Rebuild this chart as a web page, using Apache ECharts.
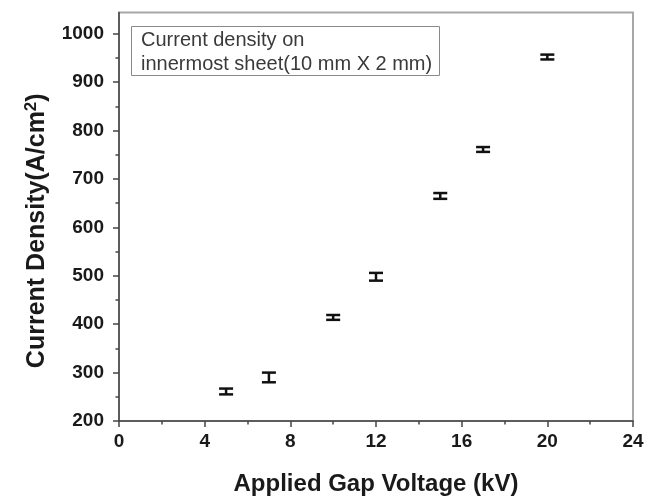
<!DOCTYPE html>
<html>
<head>
<meta charset="utf-8">
<script src="https://cdn.jsdelivr.net/npm/echarts@6/dist/echarts.min.js"></script>
<style>
html,body{margin:0;padding:0;background:#fff;}
#chart{width:657px;height:501px;}
</style>
</head>
<body>
<div id="chart"></div>
<script>
// Data
const voltage = [5, 7, 10, 12, 15, 17, 20];            // kV
const density = [261, 290, 414, 498, 665, 761, 952];   // A/cm^2
const errors  = [6, 10, 5, 8, 6, 5, 5];                // +/- A/cm^2

const xTicks = [0, 4, 8, 12, 16, 20, 24];
const xMinorTicks = [2, 6, 10, 14, 18, 22];
const yTicks = [200, 300, 400, 500, 600, 700, 800, 900, 1000];
const yMinorTicks = [250, 350, 450, 550, 650, 750, 850, 950];

const boxText = 'Current density on\ninnermost sheet(10 mm X 2 mm)';
const xTitle = 'Applied Gap Voltage (kV)';

const font = '"Liberation Sans", Arial, sans-serif';
const errData = voltage.map((v, i) => [v, density[i] - errors[i], density[i] + errors[i]]);

const chart = echarts.init(document.getElementById('chart'), null, {renderer: 'canvas'});
chart.setOption({
  animation: false,
  backgroundColor: '#fff',
  title: {
    text: boxText,
    left: 131, top: 26,
    padding: [2, 8, 0, 10],
    borderColor: '#8a8a8a', borderWidth: 1,
    textStyle: {fontFamily: font, fontSize: 20, fontWeight: 'normal', color: '#3a3a3a', lineHeight: 24}
  },
  grid: {left: 119, right: 24, top: 12.5, bottom: 77, show: true, borderColor: '#a8a8a8', borderWidth: 2, backgroundColor: 'transparent'},
  xAxis: [{
    type: 'value', min: 0, max: 24, interval: 4,
    name: xTitle, nameLocation: 'middle', nameGap: 51,
    nameTextStyle: {fontFamily: font, fontSize: 24, fontWeight: 'bold', color: '#1a1a1a'},
    axisLine: {show: true, onZero: false, lineStyle: {color: '#444', width: 1.5}},
    axisTick: {show: true, inside: false, length: 6, customValues: xTicks, lineStyle: {color: '#444', width: 1.5}},
    axisLabel: {margin: 11, customValues: xTicks, fontFamily: font, fontSize: 19, fontWeight: 'bold', color: '#1a1a1a',
      formatter: v => String(v)},
    splitLine: {show: false}
  }, {
    type: 'value', min: 0, max: 24, position: 'bottom',
    axisLine: {show: false},
    axisTick: {show: true, length: 3.5, customValues: xMinorTicks, lineStyle: {color: '#444', width: 1.5}},
    axisLabel: {show: false},
    splitLine: {show: false}
  }],
  yAxis: [{
    type: 'value', min: 200, max: 1044,
    name: 'Current Density(A/cm{sup|2})', nameLocation: 'middle', nameGap: 67, nameRotate: 90,
    nameTextStyle: {fontFamily: font, fontSize: 25, fontWeight: 'bold', color: '#1a1a1a', padding: [0, 28, 0, 0],
      rich: {sup: {fontFamily: font, fontSize: 17, fontWeight: 'bold', color: '#1a1a1a', verticalAlign: 'top', padding: [0, 0, 12, 0]}}},
    axisLine: {show: true, onZero: false, lineStyle: {color: '#444', width: 1.5}},
    axisTick: {show: true, length: 6, customValues: yTicks, lineStyle: {color: '#444', width: 1.5}},
    axisLabel: {margin: 15, customValues: yTicks, fontFamily: font, fontSize: 19, fontWeight: 'bold', color: '#1a1a1a',
      formatter: v => String(v)},
    splitLine: {show: false}
  }, {
    type: 'value', min: 200, max: 1044, position: 'left',
    axisLine: {show: false},
    axisTick: {show: true, length: 3.5, customValues: yMinorTicks, lineStyle: {color: '#444', width: 1.5}},
    axisLabel: {show: false},
    splitLine: {show: false}
  }],
  series: [{
    type: 'custom',
    xAxisIndex: 0, yAxisIndex: 0,
    data: errData,
    renderItem: function (params, api) {
      const x = api.value(0);
      const lo = api.coord([x, api.value(1)]);
      const hi = api.coord([x, api.value(2)]);
      const hw = 7;
      const style = {stroke: '#111', lineWidth: 2.5, fill: null};
      return {
        type: 'group',
        children: [
          {type: 'line', shape: {x1: lo[0], y1: lo[1], x2: hi[0], y2: hi[1]}, style: style},
          {type: 'line', shape: {x1: lo[0] - hw, y1: lo[1], x2: lo[0] + hw, y2: lo[1]}, style: style},
          {type: 'line', shape: {x1: hi[0] - hw, y1: hi[1], x2: hi[0] + hw, y2: hi[1]}, style: style}
        ]
      };
    }
  }]
});
</script>
</body>
</html>
